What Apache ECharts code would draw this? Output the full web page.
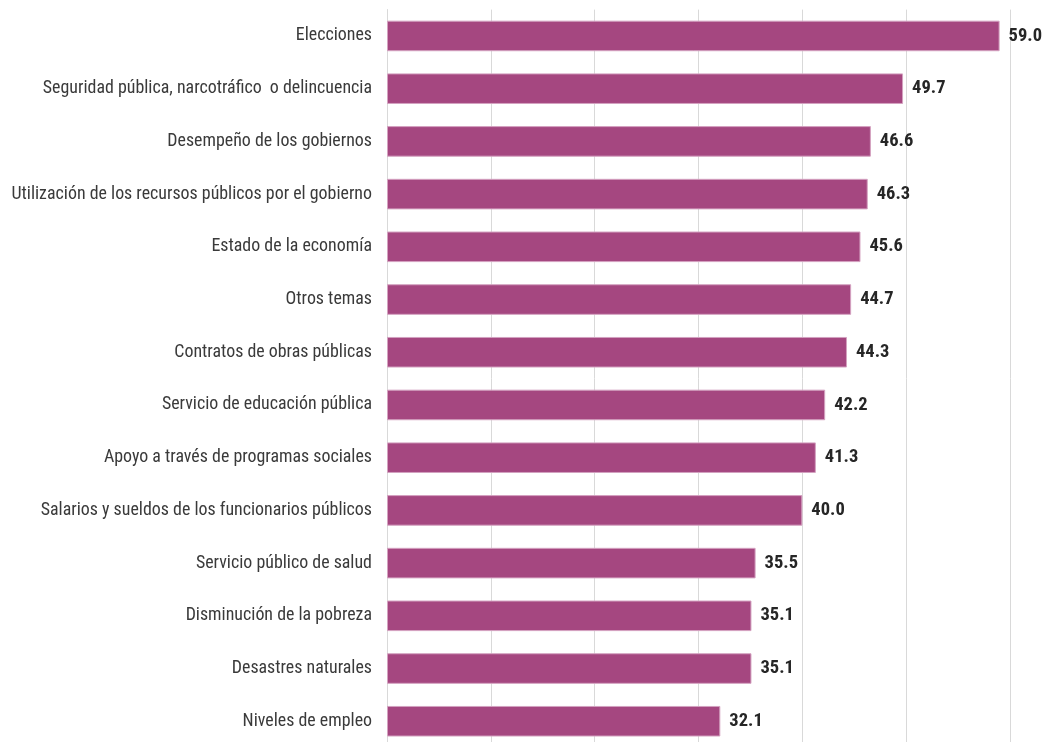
<!DOCTYPE html>
<html><head><meta charset="utf-8">
<script src="https://cdn.jsdelivr.net/npm/echarts@6/dist/echarts.min.js"></script>
<style>html,body{margin:0;padding:0;background:#fff;overflow:hidden}#c{width:1048px;height:750px}</style>
</head><body><div id="c"></div>
<script>
const categories = [
  "Elecciones",
  "Seguridad pública, narcotráfico  o delincuencia",
  "Desempeño de los gobiernos",
  "Utilización de los recursos públicos por el gobierno",
  "Estado de la economía",
  "Otros temas",
  "Contratos de obras públicas",
  "Servicio de educación pública",
  "Apoyo a través de programas sociales",
  "Salarios y sueldos de los funcionarios públicos",
  "Servicio público de salud",
  "Disminución de la pobreza",
  "Desastres naturales",
  "Niveles de empleo"
];
const values = [59.0, 49.7, 46.6, 46.3, 45.6, 44.7, 44.3, 42.2, 41.3, 40.0, 35.5, 35.1, 35.1, 32.1];
const xTicks = [0, 10, 20, 30, 40, 50, 60];

const chart = echarts.init(document.getElementById('c'));
chart.setOption({
  animation: false,
  grid: { left: 387, right: 38, top: 9.6, height: 738, containLabel: false },
  xAxis: {
    type: 'value', min: xTicks[0], max: xTicks[xTicks.length-1], interval: 10,
    axisLabel: { show: false },
    axisLine: { show: false }, axisTick: { show: false },
    splitLine: { show: true, lineStyle: { color: '#d9d9d9', width: 1 } }
  },
  yAxis: {
    type: 'category', data: categories, inverse: true,
    axisLine: { show: true, lineStyle: { color: '#d9d9d9' } },
    axisTick: { show: false },
    axisLabel: { margin: 15, color: '#3a3a3a', fontSize: 17.9, fontFamily: '"Roboto Condensed", "Liberation Sans Narrow", sans-serif' }
  },
  series: [{
    type: 'bar', data: values, barCategoryGap: '42%',
    itemStyle: { color: '#A54780', borderColor: '#D4A2C0', borderWidth: 1 },
    label: { show: true, position: 'right', distance: 9, formatter: p => p.value.toFixed(1),
      color: '#262626', fontSize: 18.5, fontWeight: 'bold', fontFamily: '"Roboto Condensed", "Liberation Sans Narrow", sans-serif' }
  }]
});
</script></body></html>
